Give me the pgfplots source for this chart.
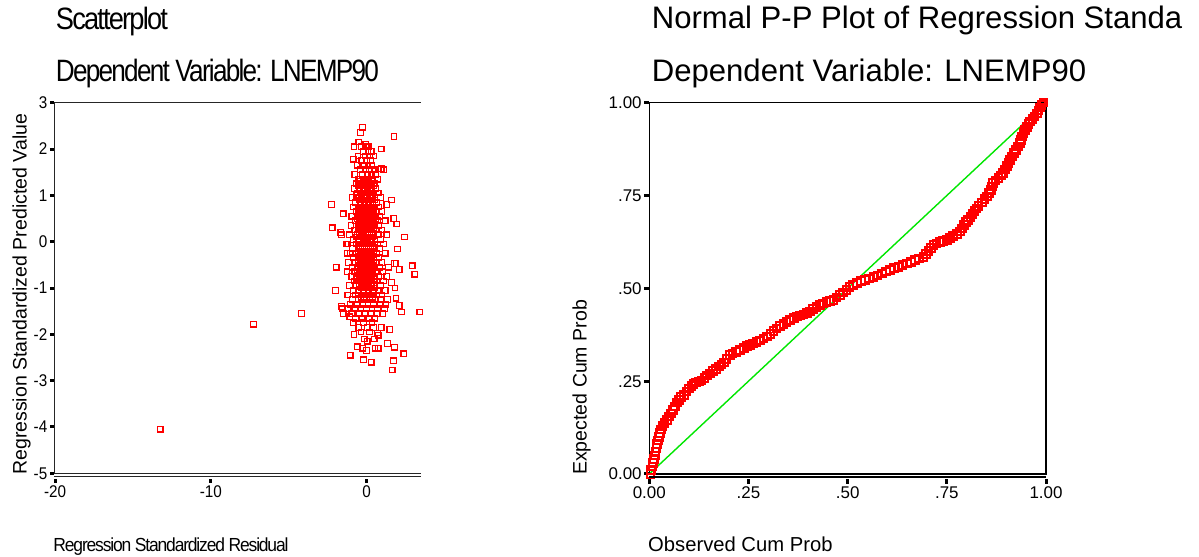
\documentclass[border=0pt]{standalone}
\usepackage{pgfplots}
\pgfplotsset{compat=1.18}
\usepackage{fontspec}
\setmainfont{Liberation Sans}
\newfontfamily\condfont[FakeStretch=0.9]{Liberation Sans}
\newfontfamily\tightfont[FakeStretch=0.9,LetterSpace=-6]{Liberation Sans}
\definecolor{ptred}{RGB}{255,0,0}
\definecolor{ptgreen}{RGB}{0,230,0}
\begin{document}
\begin{tikzpicture}
\path[use as bounding box] (0bp,0bp) rectangle (1199bp,557bp);

% ---------- titles ----------
\node[anchor=base west, inner sep=0] at (55.7bp,527bp) {\resizebox{112bp}{\height}{\fontsize{31}{36}\tightfont Scatterplot}};
\node[anchor=base west, inner sep=0] at (55.7bp,475.3bp) {\resizebox{323bp}{\height}{\fontsize{31}{36}\tightfont Dependent Variable: LNEMP90}};
\node[anchor=base west, inner sep=0] at (651.7bp,528.7bp) {\fontsize{31.2}{36}\selectfont Normal P-P Plot of Regression Standa};
\node[anchor=base west, inner sep=0] at (651.7bp,475.3bp) {\fontsize{31.2}{36}\selectfont Dependent Variable: LNEMP90};

% ---------- left scatterplot ----------
\begin{axis}[name=L,
  at={(54bp,83.7bp)}, anchor=south west, scale only axis,
  width=367bp, height=370.6bp,
  xmin=-20.07, xmax=3.5, ymin=-5, ymax=3,
  axis lines*=left, axis line style={-, line width=1bp, black!85},
  xtick={-20,-10,0}, xticklabels={-20,-10,0},
  ytick={-5,-4,-3,-2,-1,0,1,2,3}, yticklabels={-5,-4,-3,-2,-1,0,1,2,3},
  tick align=outside, major tick length=4bp,
  tick style={line width=3bp, black},
  x tick style={yshift=-5.5bp},
  xticklabel style={yshift=-5.5bp},
  ticklabel style={font=\fontsize{17}{19}\condfont, inner sep=2.5bp},
]
\addplot[only marks, color=ptred, mark=square, mark size=2.8bp, mark options={solid, line width=1.2bp, ptred}] coordinates {
(-13.25,-4.05) (-7.27,-1.78) (-4.17,-1.55) (3.42,-1.52) (-2.24,0.8) (-2.2,0.3) (-1.5,0.6) (-1.65,0.2) (-1.6,0.15)
(-2.0,-1.05) (-1.95,-0.55) (-1.6,-1.4) (-1.55,-1.45) (-1.5,-1.55) (-1.07,-1.62) (-1.3,-0.05) (-1.25,-0.25)
(-1.05,-2.45) (-0.8,-2.0) (-0.6,-2.27) (-0.27,-2.3) (-0.2,-2.55) (0.0,-2.35) (0.05,-2.15) (0.3,-2.6) (0.55,-2.3)
(0.75,-2.3) (0.7,-1.97) (0.75,-2.02) (1.5,-1.9) (1.65,-2.77) (1.74,-2.57) (1.8,-2.28) (2.4,-2.42) (2.25,-1.52)
(2.1,-1.38) (1.9,-1.22) (1.83,-1.0) (1.6,-0.88) (2.93,-0.52) (3.1,-0.7) (2.1,-0.6) (1.8,-0.47) (1.9,-0.47)
(2.0,-0.16) (2.45,0.1) (1.95,0.38) (1.75,0.5) (1.6,0.9) (1.3,0.8) (0.75,1.57) (0.95,1.58) (1.1,1.55) (0.95,2.0)
(1.77,2.27) (-0.27,2.47) (-0.38,2.36) (-0.5,2.15) (-0.8,2.05) (-0.85,1.78) (-0.05,2.1)
(-0.35,2.05) (0.05,2.05) (0.15,2.05)
(-0.2,1.95) (0.1,1.95) (0.3,1.95)
(-0.55,1.85) (-0.1,1.85) (0.2,1.85) (0.45,1.85)
(-0.3,1.75) (0.0,1.75) (0.25,1.75)
(-0.6,1.65) (-0.15,1.65) (0.1,1.65) (0.35,1.65)
(-0.4,1.55) (-0.05,1.55) (0.2,1.55) (0.5,1.55)
(-0.75,1.45) (-0.25,1.45) (0.05,1.45) (0.3,1.45) (0.6,1.45)
(-0.5,1.35) (-0.1,1.35) (0.15,1.35) (0.4,1.35) (0.7,1.35)
(-0.65,1.25) (-0.3,1.25) (0.0,1.25) (0.25,1.25) (0.55,1.25)
(-0.8,1.15) (-0.45,1.15) (-0.15,1.15) (0.1,1.15) (0.35,1.15) (0.6,1.15)
(-0.6,1.05) (-0.3,1.05) (-0.05,1.05) (0.2,1.05) (0.45,1.05) (0.75,1.05)
(-0.9,0.95) (-0.5,0.95) (-0.2,0.95) (0.05,0.95) (0.3,0.95) (0.55,0.95) (0.9,0.95)
(-0.7,0.85) (-0.35,0.85) (-0.1,0.85) (0.15,0.85) (0.4,0.85) (0.65,0.85)
(-0.85,0.75) (-0.55,0.75) (-0.25,0.75) (0.0,0.75) (0.25,0.75) (0.5,0.75) (0.8,0.75)
(-0.65,0.65) (-0.4,0.65) (-0.1,0.65) (0.15,0.65) (0.35,0.65) (0.6,0.65) (1.0,0.65)
(-0.95,0.55) (-0.5,0.55) (-0.2,0.55) (0.05,0.55) (0.3,0.55) (0.55,0.55) (0.85,0.55)
(-0.7,0.45) (-0.35,0.45) (-0.1,0.45) (0.2,0.45) (0.45,0.45) (0.7,0.45) (1.2,0.45)
(-1.0,0.35) (-0.55,0.35) (-0.25,0.35) (0.0,0.35) (0.25,0.35) (0.5,0.35) (0.8,0.35)
(-0.75,0.25) (-0.4,0.25) (-0.15,0.25) (0.1,0.25) (0.35,0.25) (0.6,0.25) (1.0,0.25)
(-1.1,0.15) (-0.6,0.15) (-0.3,0.15) (-0.05,0.15) (0.2,0.15) (0.45,0.15) (0.75,0.15) (1.3,0.15)
(-0.85,0.05) (-0.45,0.05) (-0.2,0.05) (0.05,0.05) (0.3,0.05) (0.55,0.05) (0.9,0.05)
(-1.2,-0.05) (-0.65,-0.05) (-0.35,-0.05) (-0.1,-0.05) (0.15,-0.05) (0.4,-0.05) (0.7,-0.05) (1.1,-0.05)
(-0.9,-0.15) (-0.5,-0.15) (-0.25,-0.15) (0.0,-0.15) (0.25,-0.15) (0.5,-0.15) (0.85,-0.15)
(-1.05,-0.25) (-0.7,-0.25) (-0.4,-0.25) (-0.15,-0.25) (0.1,-0.25) (0.35,-0.25) (0.65,-0.25) (1.2,-0.25)
(-0.85,-0.35) (-0.55,-0.35) (-0.3,-0.35) (-0.05,-0.35) (0.2,-0.35) (0.45,-0.35) (0.8,-0.35)
(-1.15,-0.45) (-0.7,-0.45) (-0.4,-0.45) (-0.15,-0.45) (0.1,-0.45) (0.35,-0.45) (0.6,-0.45) (1.0,-0.45)
(-0.9,-0.55) (-0.55,-0.55) (-0.3,-0.55) (-0.05,-0.55) (0.2,-0.55) (0.5,-0.55) (0.85,-0.55) (1.4,-0.55)
(-1.25,-0.65) (-0.75,-0.65) (-0.45,-0.65) (-0.2,-0.65) (0.05,-0.65) (0.3,-0.65) (0.6,-0.65) (1.05,-0.65)
(-0.95,-0.75) (-0.6,-0.75) (-0.3,-0.75) (-0.05,-0.75) (0.2,-0.75) (0.45,-0.75) (0.8,-0.75) (1.3,-0.75)
(-0.8,-0.85) (-0.5,-0.85) (-0.2,-0.85) (0.05,-0.85) (0.35,-0.85) (0.65,-0.85) (1.1,-0.85)
(-1.1,-0.95) (-0.65,-0.95) (-0.35,-0.95) (-0.1,-0.95) (0.15,-0.95) (0.45,-0.95) (0.9,-0.95)
(-0.85,-1.05) (-0.5,-1.05) (-0.2,-1.05) (0.1,-1.05) (0.4,-1.05) (0.75,-1.05) (1.2,-1.05)
(-1.2,-1.15) (-0.7,-1.15) (-0.35,-1.15) (0.0,-1.15) (0.3,-1.15) (0.65,-1.15) (1.0,-1.15)
(-0.9,-1.25) (-0.55,-1.25) (-0.15,-1.25) (0.2,-1.25) (0.55,-1.25) (0.95,-1.25) (1.35,-1.25)
(-1.05,-1.35) (-0.6,-1.35) (-0.25,-1.35) (0.1,-1.35) (0.45,-1.35) (0.85,-1.35) (1.25,-1.35)
(-1.2,-1.45) (-0.75,-1.45) (-0.35,-1.45) (0.0,-1.45) (0.35,-1.45) (0.7,-1.45) (1.15,-1.45)
(-0.95,-1.55) (-0.5,-1.55) (-0.1,-1.55) (0.3,-1.55) (0.65,-1.55) (1.05,-1.55)
(-0.7,-1.65) (-0.3,-1.65) (0.15,-1.65) (0.55,-1.65)
(-0.85,-1.75) (-0.2,-1.75) (0.35,-1.75)
(-0.5,-1.85) (0.05,-1.85) (0.45,-1.85) (0.95,-1.85)
(-0.35,-1.95) (0.2,-1.95)
(-0.15,-2.1) (0.5,-2.1) (1.35,-2.2)
(-0.4,1.3) (-0.18,1.3) (0.08,1.3) (0.32,1.3)
(-0.5,1.2) (-0.22,1.2) (0.02,1.2) (0.28,1.2) (0.48,1.2)
(-0.42,1.1) (-0.18,1.1) (0.08,1.1) (0.32,1.1)
(-0.62,1.0) (-0.35,1.0) (-0.08,1.0) (0.18,1.0) (0.42,1.0)
(-0.48,0.9) (-0.22,0.9) (0.02,0.9) (0.28,0.9) (0.52,0.9)
(-0.4,0.8) (-0.12,0.8) (0.12,0.8) (0.38,0.8)
(-0.55,0.7) (-0.25,0.7) (0.02,0.7) (0.25,0.7) (0.48,0.7)
(-0.45,0.6) (-0.15,0.6) (0.18,0.6) (0.42,0.6)
(-0.6,0.5) (-0.22,0.5) (0.05,0.5) (0.32,0.5) (0.58,0.5)
(-0.45,0.4) (-0.12,0.4) (0.12,0.4) (0.38,0.4)
(-0.55,0.3) (-0.28,0.3) (-0.02,0.3) (0.22,0.3) (0.48,0.3)
(-0.45,0.2) (-0.18,0.2) (0.08,0.2) (0.32,0.2)
(-0.62,0.1) (-0.32,0.1) (-0.08,0.1) (0.18,0.1) (0.42,0.1)
(-0.5,0.0) (-0.22,0.0) (0.02,0.0) (0.28,0.0) (0.55,0.0)
(-0.38,-0.1) (-0.12,-0.1) (0.12,-0.1) (0.38,-0.1)
(-0.55,-0.2) (-0.28,-0.2) (-0.02,-0.2) (0.22,-0.2) (0.45,-0.2)
(-0.42,-0.3) (-0.18,-0.3) (0.08,-0.3) (0.32,-0.3)
(-0.55,-0.4) (-0.28,-0.4) (-0.02,-0.4) (0.22,-0.4) (0.48,-0.4)
(-0.42,-0.5) (-0.18,-0.5) (0.08,-0.5) (0.35,-0.5)
(-0.6,-0.6) (-0.32,-0.6) (-0.08,-0.6) (0.18,-0.6) (0.42,-0.6)
(-0.45,-0.7) (-0.18,-0.7) (0.08,-0.7) (0.32,-0.7)
(-0.62,-0.8) (-0.35,-0.8) (-0.08,-0.8) (0.2,-0.8) (0.5,-0.8)
(-0.48,-0.9) (-0.22,-0.9) (0.02,-0.9) (0.3,-0.9)
(-0.35,-1.0) (-0.05,-1.0) (0.25,-1.0) (0.55,-1.0)
(-0.52,-1.1) (-0.18,-1.1) (0.15,-1.1) (0.48,-1.1)
(-0.35,-1.2) (0.0,-1.2) (0.38,-1.2)
};
\end{axis}
\draw[line width=1bp, black!85] (L.north west) -- (L.north east);
\draw[line width=1bp, black!85] ([yshift=-3.4bp]L.south west) -- ([yshift=-3.4bp]L.south east);

% ---------- right P-P plot ----------
\begin{axis}[name=R,
  at={(649.3bp,83bp)}, anchor=south west, scale only axis,
  width=396.7bp, height=371.3bp,
  xmin=0, xmax=1, ymin=0, ymax=1,
  axis line style={line width=1.3bp, black},
  xtick={0,0.25,0.5,0.75,1}, xticklabels={0.00,.25,.50,.75,1.00},
  ytick={0,0.25,0.5,0.75,1}, yticklabels={0.00,.25,.50,.75,1.00},
  tick pos=left, tick align=outside, major tick length=5bp,
  tick style={line width=3bp, black},
  x tick style={yshift=-5bp},
  xticklabel style={yshift=-5bp},
  ticklabel style={font=\fontsize{17}{20}\selectfont, inner sep=2.5bp},
]
\addplot[ptgreen, line width=1.4bp] coordinates {(0,0) (1,1)};
\addplot[only marks, color=ptred, mark=square, mark size=3.8bp, mark options={solid, line width=2bp, ptred}] coordinates {
(0.003,0.0) (0.005,0.01) (0.008,0.02) (0.010,0.03) (0.012,0.04) (0.014,0.05) (0.016,0.06) (0.018,0.07) (0.020,0.08)
(0.022,0.09) (0.025,0.10) (0.027,0.11) (0.030,0.12) (0.033,0.13) (0.038,0.137) (0.044,0.145) (0.050,0.155) (0.055,0.163)
(0.060,0.172) (0.065,0.182) (0.070,0.193) (0.075,0.200) (0.080,0.207) (0.087,0.213) (0.094,0.222) (0.100,0.230)
(0.106,0.237) (0.111,0.242) (0.118,0.246) (0.125,0.249) (0.132,0.252) (0.139,0.258) (0.146,0.265) (0.153,0.271)
(0.161,0.277) (0.168,0.283) (0.175,0.289) (0.182,0.295) (0.188,0.300) (0.195,0.310) (0.203,0.320) (0.210,0.325)
(0.218,0.329) (0.229,0.334) (0.238,0.339) (0.246,0.344) (0.254,0.348) (0.262,0.352) (0.270,0.356) (0.279,0.360)
(0.288,0.365) (0.296,0.370) (0.305,0.377) (0.313,0.385) (0.321,0.392) (0.330,0.398) (0.338,0.404) (0.346,0.410)
(0.355,0.415) (0.364,0.420) (0.372,0.424) (0.380,0.427) (0.389,0.430) (0.397,0.433) (0.405,0.438) (0.413,0.444)
(0.421,0.450) (0.430,0.455) (0.438,0.459) (0.447,0.463) (0.455,0.466) (0.464,0.469) (0.472,0.475) (0.480,0.482)
(0.489,0.489) (0.497,0.496) (0.505,0.503) (0.513,0.509) (0.523,0.515) (0.533,0.519) (0.544,0.523) (0.554,0.527)
(0.565,0.531) (0.575,0.535) (0.586,0.540) (0.596,0.545) (0.607,0.549) (0.617,0.554) (0.628,0.558) (0.638,0.563)
(0.649,0.567) (0.659,0.571) (0.670,0.576) (0.680,0.580) (0.691,0.585) (0.698,0.592) (0.704,0.600) (0.710,0.609)
(0.716,0.617) (0.724,0.621) (0.733,0.625) (0.741,0.628) (0.750,0.630) (0.758,0.635) (0.766,0.641) (0.775,0.647)
(0.783,0.653) (0.788,0.661) (0.794,0.670) (0.799,0.678) (0.804,0.684) (0.810,0.692) (0.815,0.700) (0.820,0.708)
(0.825,0.715) (0.830,0.722) (0.838,0.731) (0.845,0.740) (0.851,0.747) (0.856,0.756) (0.861,0.765) (0.864,0.774)
(0.867,0.783) (0.873,0.790) (0.880,0.797) (0.886,0.804) (0.892,0.810) (0.897,0.820) (0.901,0.829) (0.905,0.838)
(0.909,0.846) (0.914,0.855) (0.919,0.864) (0.925,0.873) (0.930,0.882) (0.934,0.891) (0.937,0.900) (0.940,0.909)
(0.943,0.918) (0.947,0.926) (0.952,0.934) (0.956,0.942) (0.960,0.949) (0.966,0.956) (0.971,0.963) (0.977,0.971)
(0.981,0.979) (0.985,0.987) (0.989,0.994) (0.994,1.0)
};
\end{axis}
\draw[line width=1.3bp] ([yshift=-3bp]R.south west) -- ([yshift=-3bp]R.south east);

% ---------- axis labels ----------
\node[rotate=90, anchor=base west, inner sep=0] at (26.7bp,82bp) {\fontsize{19.6}{23}\selectfont Regression Standardized Predicted Value};
\node[rotate=90, anchor=base west, inner sep=0] at (586.7bp,82bp) {\fontsize{19.6}{23}\selectfont Expected Cum Prob};
\node[anchor=base west, inner sep=0] at (53.3bp,5.3bp) {\resizebox{235bp}{\height}{\fontsize{19}{23}\tightfont Regression Standardized Residual}};
\node[anchor=base west, inner sep=0] at (648bp,5.3bp) {\fontsize{20.3}{24}\selectfont Observed Cum Prob};
\end{tikzpicture}
\end{document}
